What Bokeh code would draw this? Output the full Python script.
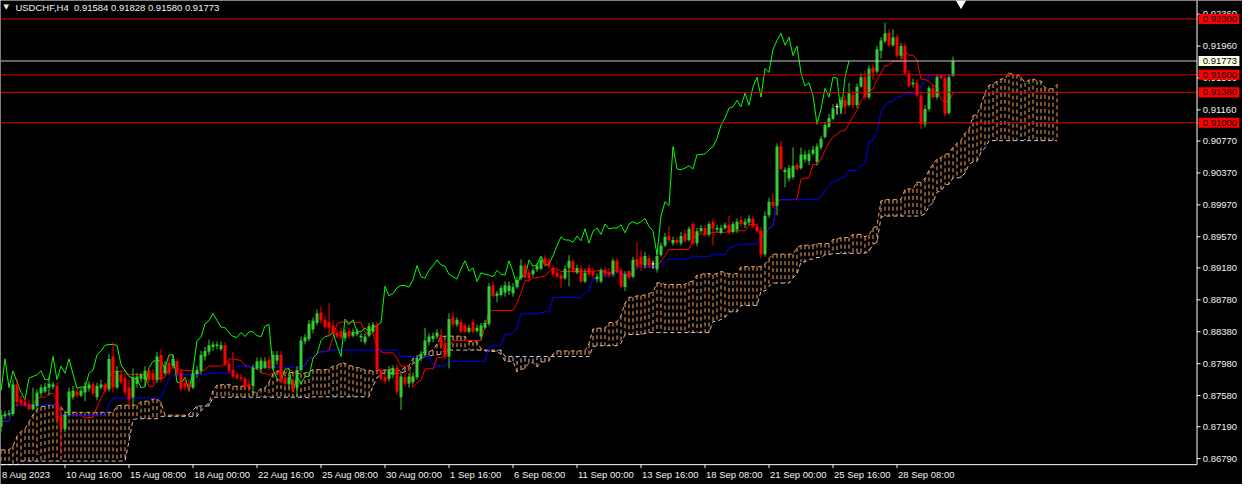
from bokeh.plotting import figure
from bokeh.models import Range1d, ColumnDataSource
from bokeh.embed import file_html
from bokeh.resources import INLINE
from bokeh.core.properties import value

SYMBOL = "USDCHF,H4"

OPEN = [
    0.8719, 0.8732, 0.8734, 0.8735, 0.8772, 0.8753, 0.8751, 0.8747, 0.8741, 0.8745,
    0.8761, 0.8763, 0.8768, 0.8769, 0.8770, 0.8732, 0.8716, 0.8734, 0.8756, 0.8763,
    0.8758, 0.8762, 0.8767, 0.8772, 0.8756, 0.8768, 0.8772, 0.8766, 0.8807, 0.8768,
    0.8784, 0.8780, 0.8768, 0.8756, 0.8773, 0.8779, 0.8778, 0.8789, 0.8786, 0.8778,
    0.8809, 0.8786, 0.8799, 0.8795, 0.8801, 0.8787, 0.8774, 0.8773, 0.8768, 0.8785,
    0.8789, 0.8807, 0.8813, 0.8819, 0.8820, 0.8816, 0.8821, 0.8798, 0.8790, 0.8784,
    0.8781, 0.8779, 0.8773, 0.8770, 0.8792, 0.8791, 0.8793, 0.8803, 0.8792, 0.8802,
    0.8809, 0.8780, 0.8772, 0.8776, 0.8768, 0.8790, 0.8826, 0.8829, 0.8841, 0.8849,
    0.8862, 0.8853, 0.8850, 0.8846, 0.8837, 0.8839, 0.8830, 0.8839, 0.8833, 0.8835,
    0.8831, 0.8825, 0.8833, 0.8838, 0.8847, 0.8790, 0.8781, 0.8779, 0.8784, 0.8793,
    0.8756, 0.8781, 0.8773, 0.8775, 0.8781, 0.8804, 0.8809, 0.8825, 0.8829, 0.8832,
    0.8834, 0.8824, 0.8807, 0.8856, 0.8847, 0.8850, 0.8846, 0.8838, 0.8850, 0.8839,
    0.8832, 0.8843, 0.8848, 0.8896, 0.8883, 0.8884, 0.8887, 0.8889, 0.8886, 0.8894,
    0.8905, 0.8921, 0.8912, 0.8910, 0.8916, 0.8917, 0.8930, 0.8927, 0.8918, 0.8912,
    0.8909, 0.8905, 0.8918, 0.8926, 0.8912, 0.8917, 0.8901, 0.8918, 0.8914, 0.8904,
    0.8901, 0.8916, 0.8913, 0.8910, 0.8927, 0.8915, 0.8894, 0.8914, 0.8907, 0.8929,
    0.8932, 0.8921, 0.8930, 0.8923, 0.8916, 0.8934, 0.8946, 0.8958, 0.8949, 0.8953,
    0.8949, 0.8961, 0.8953, 0.8973, 0.8949, 0.8964, 0.8968, 0.8960, 0.8976, 0.8966,
    0.8962, 0.8968, 0.8972, 0.8963, 0.8966, 0.8978, 0.8972, 0.8975, 0.8980, 0.8970,
    0.8965, 0.8935, 0.8984, 0.9001, 0.8996, 0.9070, 0.9038, 0.9030, 0.9032, 0.9047,
    0.9043, 0.9054, 0.9052, 0.9061, 0.9051, 0.9069, 0.9082, 0.9095, 0.9105, 0.9120,
    0.9118, 0.9128, 0.9122, 0.9135, 0.9122, 0.9145, 0.9157, 0.9132, 0.9169, 0.9164,
    0.9190, 0.9202, 0.9212, 0.9197, 0.9207, 0.9184, 0.9196, 0.9162, 0.9148, 0.9150,
    0.9134, 0.9098, 0.9117, 0.9143, 0.9132, 0.9159, 0.9156, 0.9112, 0.91584,
]
HIGH = [
    0.8740, 0.8739, 0.8740, 0.8778, 0.8780, 0.8758, 0.8756, 0.8752, 0.8768, 0.8766,
    0.8772, 0.8774, 0.8782, 0.8775, 0.8774, 0.8744, 0.8739, 0.8768, 0.8770, 0.8766,
    0.8768, 0.8775, 0.8776, 0.8775, 0.8774, 0.8778, 0.8774, 0.8810, 0.8825, 0.8795,
    0.8789, 0.8786, 0.8778, 0.8792, 0.8786, 0.8787, 0.8795, 0.8792, 0.8791, 0.8813,
    0.8816, 0.8801, 0.8807, 0.8809, 0.8804, 0.8792, 0.8780, 0.8778, 0.8792, 0.8795,
    0.8814, 0.8819, 0.8828, 0.8826, 0.8826, 0.8826, 0.8825, 0.8802, 0.8813, 0.8787,
    0.8785, 0.8782, 0.8778, 0.8797, 0.8806, 0.8806, 0.8806, 0.8808, 0.8814, 0.8814,
    0.8814, 0.8785, 0.8785, 0.8780, 0.8795, 0.8832, 0.8835, 0.8853, 0.8856, 0.8866,
    0.8870, 0.8858, 0.8874, 0.8852, 0.8841, 0.8843, 0.8841, 0.8843, 0.8842, 0.8842,
    0.8836, 0.8836, 0.8849, 0.8850, 0.8850, 0.8792, 0.8785, 0.8795, 0.8796, 0.8797,
    0.8786, 0.8787, 0.8786, 0.8787, 0.8809, 0.8814, 0.8843, 0.8836, 0.8837, 0.8841,
    0.8841, 0.8827, 0.8861, 0.8862, 0.8856, 0.8854, 0.8849, 0.8847, 0.8854, 0.8847,
    0.8849, 0.8853, 0.8899, 0.8901, 0.8889, 0.8896, 0.8901, 0.8901, 0.8899, 0.8907,
    0.8929, 0.8924, 0.8916, 0.8918, 0.8924, 0.8932, 0.8934, 0.8930, 0.8921, 0.8916,
    0.8912, 0.8921, 0.8934, 0.8929, 0.8922, 0.8921, 0.8917, 0.8922, 0.8918, 0.8911,
    0.8918, 0.8920, 0.8918, 0.8930, 0.8930, 0.8918, 0.8914, 0.8915, 0.8932, 0.8950,
    0.8940, 0.8938, 0.8934, 0.8927, 0.8938, 0.8950, 0.8962, 0.8970, 0.8957, 0.8957,
    0.8963, 0.8966, 0.8970, 0.8976, 0.8968, 0.8972, 0.8972, 0.8976, 0.8980, 0.8972,
    0.8972, 0.8975, 0.8983, 0.8976, 0.8980, 0.8983, 0.8980, 0.8984, 0.8983, 0.8974,
    0.8969, 0.8989, 0.9006, 0.9011, 0.9074, 0.9077, 0.9044, 0.9047, 0.9069, 0.9050,
    0.9069, 0.9065, 0.9066, 0.9071, 0.9074, 0.9083, 0.9101, 0.9111, 0.9123, 0.9124,
    0.9132, 0.9134, 0.9150, 0.9139, 0.9149, 0.9162, 0.9165, 0.9172, 0.9173, 0.9196,
    0.9207, 0.9225, 0.9217, 0.9217, 0.9211, 0.9200, 0.9200, 0.9166, 0.9155, 0.9154,
    0.9137, 0.9122, 0.9146, 0.9148, 0.9161, 0.9161, 0.9160, 0.9161, 0.91828,
]
LOW = [
    0.8712, 0.8729, 0.8732, 0.8732, 0.8744, 0.8746, 0.8744, 0.8739, 0.8739, 0.8742,
    0.8757, 0.8761, 0.8758, 0.8766, 0.8722, 0.8685, 0.8712, 0.8732, 0.8753, 0.8755,
    0.8756, 0.8751, 0.8763, 0.8757, 0.8752, 0.8766, 0.8762, 0.8763, 0.8762, 0.8766,
    0.8772, 0.8758, 0.8744, 0.8746, 0.8768, 0.8775, 0.8770, 0.8774, 0.8773, 0.8774,
    0.8775, 0.8784, 0.8784, 0.8792, 0.8782, 0.8763, 0.8764, 0.8762, 0.8766, 0.8780,
    0.8785, 0.8802, 0.8809, 0.8814, 0.8816, 0.8814, 0.8795, 0.8786, 0.8780, 0.8778,
    0.8776, 0.8766, 0.8763, 0.8759, 0.8790, 0.8787, 0.8791, 0.8790, 0.8790, 0.8797,
    0.8773, 0.8769, 0.8768, 0.8762, 0.8756, 0.8787, 0.8822, 0.8826, 0.8836, 0.8846,
    0.8848, 0.8842, 0.8832, 0.8835, 0.8830, 0.8829, 0.8826, 0.8830, 0.8831, 0.8832,
    0.8825, 0.8822, 0.8831, 0.8836, 0.8787, 0.8776, 0.8773, 0.8776, 0.8780, 0.8759,
    0.8740, 0.8769, 0.8768, 0.8773, 0.8778, 0.8801, 0.8807, 0.8821, 0.8825, 0.8829,
    0.8816, 0.8804, 0.8792, 0.8844, 0.8844, 0.8836, 0.8836, 0.8836, 0.8836, 0.8837,
    0.8828, 0.8841, 0.8845, 0.8881, 0.8875, 0.8882, 0.8882, 0.8884, 0.8882, 0.8892,
    0.8903, 0.8905, 0.8901, 0.8907, 0.8913, 0.8915, 0.8920, 0.8917, 0.8907, 0.8905,
    0.8893, 0.8903, 0.8895, 0.8911, 0.8910, 0.8899, 0.8899, 0.8907, 0.8905, 0.8900,
    0.8899, 0.8906, 0.8906, 0.8907, 0.8911, 0.8892, 0.8889, 0.8903, 0.8905, 0.8917,
    0.8914, 0.8917, 0.8918, 0.8917, 0.8912, 0.8932, 0.8944, 0.8950, 0.8946, 0.8947,
    0.8946, 0.8950, 0.8951, 0.8946, 0.8945, 0.8962, 0.8957, 0.8957, 0.8946, 0.8963,
    0.8960, 0.8966, 0.8960, 0.8961, 0.8962, 0.8970, 0.8968, 0.8972, 0.8968, 0.8962,
    0.8930, 0.8932, 0.8981, 0.8993, 0.8984, 0.9040, 0.9019, 0.9026, 0.9029, 0.9040,
    0.9041, 0.9050, 0.9047, 0.9059, 0.9047, 0.9066, 0.9080, 0.9093, 0.9103, 0.9110,
    0.9115, 0.9111, 0.9120, 0.9118, 0.9118, 0.9144, 0.9129, 0.9129, 0.9154, 0.9162,
    0.9180, 0.9200, 0.9195, 0.9195, 0.9181, 0.9180, 0.9160, 0.9144, 0.9144, 0.9132,
    0.9092, 0.9094, 0.9114, 0.9131, 0.9129, 0.9154, 0.9108, 0.9110, 0.91580,
]
CLOSE = [
    0.8734, 0.8735, 0.8736, 0.8772, 0.8750, 0.8748, 0.8746, 0.8741, 0.8747, 0.8762,
    0.8768, 0.8769, 0.8773, 0.8772, 0.8729, 0.8716, 0.8734, 0.8763, 0.8764, 0.8758,
    0.8764, 0.8770, 0.8772, 0.8761, 0.8770, 0.8772, 0.8764, 0.8804, 0.8768, 0.8789,
    0.8775, 0.8762, 0.8753, 0.8780, 0.8782, 0.8784, 0.8789, 0.8778, 0.8778, 0.8807,
    0.8778, 0.8795, 0.8786, 0.8804, 0.8785, 0.8767, 0.8769, 0.8768, 0.8786, 0.8790,
    0.8809, 0.8814, 0.8821, 0.8822, 0.8822, 0.8821, 0.8797, 0.8789, 0.8782, 0.8780,
    0.8779, 0.8768, 0.8769, 0.8793, 0.8801, 0.8802, 0.8801, 0.8792, 0.8809, 0.8809,
    0.8775, 0.8773, 0.8781, 0.8764, 0.8790, 0.8827, 0.8831, 0.8848, 0.8852, 0.8861,
    0.8852, 0.8844, 0.8843, 0.8837, 0.8832, 0.8831, 0.8837, 0.8832, 0.8838, 0.8838,
    0.8833, 0.8832, 0.8845, 0.8847, 0.8791, 0.8779, 0.8776, 0.8791, 0.8792, 0.8763,
    0.8782, 0.8773, 0.8782, 0.8782, 0.8805, 0.8810, 0.8827, 0.8832, 0.8833, 0.8837,
    0.8821, 0.8807, 0.8854, 0.8847, 0.8853, 0.8838, 0.8838, 0.8843, 0.8838, 0.8843,
    0.8846, 0.8849, 0.8895, 0.8883, 0.8886, 0.8893, 0.8896, 0.8896, 0.8894, 0.8903,
    0.8921, 0.8907, 0.8905, 0.8915, 0.8921, 0.8928, 0.8922, 0.8920, 0.8910, 0.8907,
    0.8904, 0.8917, 0.8927, 0.8914, 0.8918, 0.8901, 0.8912, 0.8910, 0.8909, 0.8907,
    0.8915, 0.8910, 0.8909, 0.8927, 0.8913, 0.8895, 0.8910, 0.8906, 0.8928, 0.8920,
    0.8922, 0.8933, 0.8921, 0.8923, 0.8933, 0.8946, 0.8957, 0.8953, 0.8953, 0.8950,
    0.8958, 0.8952, 0.8967, 0.8949, 0.8964, 0.8968, 0.8960, 0.8973, 0.8967, 0.8968,
    0.8968, 0.8972, 0.8962, 0.8973, 0.8976, 0.8973, 0.8976, 0.8980, 0.8970, 0.8964,
    0.8935, 0.8983, 0.9001, 0.8996, 0.9070, 0.9042, 0.9041, 0.9043, 0.9046, 0.9042,
    0.9060, 0.9060, 0.9061, 0.9066, 0.9070, 0.9080, 0.9097, 0.9106, 0.9118, 0.9120,
    0.9128, 0.9120, 0.9137, 0.9122, 0.9145, 0.9157, 0.9132, 0.9168, 0.9163, 0.9192,
    0.9203, 0.9212, 0.9197, 0.9207, 0.9184, 0.9196, 0.9162, 0.9146, 0.9150, 0.9134,
    0.9098, 0.9117, 0.9143, 0.9132, 0.9157, 0.9156, 0.9111, 0.9157, 0.91773,
]

# Ichimoku cloud edges at the left of the window (their source bars are off-screen)
SPAN_A_EARLY = [
    0.8690, 0.8690, 0.8690, 0.8695, 0.8707, 0.8713, 0.8716, 0.8725, 0.8734, 0.8741,
    0.8744, 0.8745, 0.8746, 0.8747, 0.8747, 0.8744, 0.8737, 0.8737, 0.8737, 0.8737,
    0.8737, 0.8737, 0.8737, 0.8737, 0.8737, 0.8737, 0.8737, 0.8737, 0.8737,
]
SPAN_B_EARLY = [
    0.8659, 0.8659, 0.8659, 0.8659, 0.8659, 0.8676, 0.8676, 0.8676, 0.8676, 0.8676,
    0.8676, 0.8676, 0.8676, 0.8676, 0.8676, 0.8676, 0.8676, 0.8676, 0.8676, 0.8676,
    0.8676, 0.8676, 0.8676, 0.8676, 0.8676, 0.8676, 0.8676, 0.8676, 0.8676, 0.8676,
    0.8676, 0.8676, 0.8701, 0.8728, 0.8729, 0.8729, 0.8729, 0.8729, 0.8729, 0.8729,
    0.8732, 0.8732, 0.8732, 0.8732, 0.8732, 0.8732, 0.8732, 0.8735, 0.8740, 0.8745,
    0.8745, 0.8745, 0.8745, 0.8756, 0.8756, 0.8756, 0.8756, 0.8756, 0.8756, 0.8756,
    0.8756, 0.8756, 0.8756, 0.8756, 0.8756, 0.8756, 0.8756, 0.8756, 0.8756, 0.8756,
    0.8756, 0.8756, 0.8756, 0.8756, 0.8756, 0.8756, 0.8756,
]

PRICE_TICKS = [0.8679, 0.8719, 0.8758, 0.8798, 0.8838, 0.8878, 0.8918, 0.8957,
               0.8997, 0.9037, 0.9077, 0.9116, 0.9156, 0.9196, 0.9236]
TIME_TICKS = [0, 16, 32, 48, 64, 80, 96, 112, 128, 144, 160, 176, 192, 208, 224]
TIME_LABELS = ["8 Aug 2023", "10 Aug 16:00", "15 Aug 08:00", "18 Aug 00:00", "22 Aug 16:00",
               "25 Aug 08:00", "30 Aug 00:00", "1 Sep 16:00", "6 Sep 08:00", "11 Sep 00:00",
               "13 Sep 16:00", "18 Sep 08:00", "21 Sep 00:00", "25 Sep 16:00", "28 Sep 08:00"]
LEVELS = [0.92300, 0.91600, 0.91380, 0.91000]

TENKAN_P, KIJUN_P, SENKOU_P, SHIFT = 9, 26, 52, 26

n = len(CLOSE)
LAST = CLOSE[-1]


def midpoint(i, period):
    s = max(0, i - period + 1)
    return (max(HIGH[s:i + 1]) + min(LOW[s:i + 1])) / 2


tenkan = [midpoint(i, TENKAN_P) for i in range(n)]
kijun = [midpoint(i, KIJUN_P) for i in range(n)]
m = n + SHIFT
span_a, span_b = [], []
for j in range(m):
    if j < len(SPAN_A_EARLY):
        span_a.append(SPAN_A_EARLY[j])
    else:
        k = j - SHIFT
        span_a.append((tenkan[k] + kijun[k]) / 2)
    if j < len(SPAN_B_EARLY):
        span_b.append(SPAN_B_EARLY[j])
    else:
        span_b.append(midpoint(j - SHIFT, SENKOU_P))

# ---- layout / style constants ----
W, H = 1242, 484
X0, X1 = -0.125, 310.375          # 4 px per bar
Y_TOP = 0.92531
PPX = 1 / 8244                    # price per reference pixel
Y_BOT = Y_TOP - 500 * PPX
AXIS_X = 299.0                    # right price-scale line (bar units)
AXIS_Y = Y_TOP - 479.5 * PPX      # bottom time-scale line (price units)
FONT = "Liberation Sans"
FS = "9.5px"
TXT = "#F0F0F0"

p = figure(width=W, height=H, output_backend="svg", toolbar_location=None,
           x_range=Range1d(X0, X1), y_range=Range1d(Y_BOT, Y_TOP),
           x_axis_location=None, y_axis_location=None, min_border=0,
           background_fill_color="black", border_fill_color="black", outline_line_color=None)
p.grid.visible = False


def clip(v):
    # the price pane ends at the time-scale line
    return max(v, AXIS_Y)


# cloud
cx = list(range(m))
ca = [clip(v) for v in span_a]
cb = [clip(v) for v in span_b]
ccol = ["#F4A460" if span_a[j] >= span_b[j] else "#D8BFD8" for j in cx]
p.segment(x0=cx, y0=ca, x1=cx, y1=cb, line_color=ccol, line_dash="4 3", line_width=1)
p.line(cx, ca, line_color="#F4A460", line_dash="4 3", line_width=1)
p.line(cx, cb, line_color="#D8BFD8", line_dash="4 3", line_width=1)

# ichimoku lines
idx = list(range(n))
p.line(idx, tenkan, line_color="#FF0000", line_width=1)
p.line(idx, kijun, line_color="#0000FF", line_width=1)
p.line(list(range(n - SHIFT)), CLOSE[SHIFT:], line_color="#00FF00", line_width=1)


def cds(sel):
    return ColumnDataSource(dict(
        x=sel,
        h=[HIGH[i] for i in sel], l=[LOW[i] for i in sel],
        top=[max(OPEN[i], CLOSE[i]) for i in sel],
        bot=[min(OPEN[i], CLOSE[i]) for i in sel],
        x0=[i - 0.375 for i in sel], x1=[i + 0.375 for i in sel],
        o=[OPEN[i] for i in sel],
    ))


up = cds([i for i in idx if CLOSE[i] > OPEN[i]])
dn = cds([i for i in idx if CLOSE[i] < OPEN[i]])
dj = cds([i for i in idx if CLOSE[i] == OPEN[i]])
for s, col in ((up, "#32CD32"), (dn, "#FF0000")):
    p.segment(x0="x", y0="h", x1="x", y1="l", source=s, line_color=col, line_width=1)
    p.vbar(x="x", width=0.75, top="top", bottom="bot", source=s, fill_color=col, line_color=None)
p.segment(x0="x", y0="h", x1="x", y1="l", source=dj, line_color="white", line_width=1)
p.segment(x0="x0", y0="o", x1="x1", y1="o", source=dj, line_color="white", line_width=1)

# horizontal levels and last-price line
p.segment(x0=[X0] * len(LEVELS), y0=LEVELS, x1=[AXIS_X] * len(LEVELS), y1=LEVELS,
          line_color="#DC0000", line_width=1)
p.segment(x0=[X0], y0=[LAST], x1=[AXIS_X], y1=[LAST], line_color="#C8C8C8", line_width=1)

# price scale (right)
p.segment(x0=[AXIS_X], y0=[AXIS_Y], x1=[AXIS_X], y1=[Y_TOP], line_color="white", line_width=1)
p.segment(x0=[AXIS_X] * len(PRICE_TICKS), y0=PRICE_TICKS,
          x1=[AXIS_X + 0.875] * len(PRICE_TICKS), y1=PRICE_TICKS, line_color="white", line_width=1)
p.text(x=[AXIS_X + 1.45] * len(PRICE_TICKS), y=PRICE_TICKS,
       text=[f"{t:.5f}" for t in PRICE_TICKS], text_align="left", text_baseline="middle",
       text_font=value(FONT), text_font_size=value(FS), text_color=TXT)

# level boxes on the price scale
BOX_L, BOX_R, BOX_HALF = AXIS_X + 0.4, AXIS_X + 10.6, 5.2 * PPX
box_y = LEVELS + [LAST]
box_fill = ["#FF0000"] * len(LEVELS) + ["#FFFFE6"]
box_txt = ["#000000"] * len(LEVELS) + ["#000000"]
p.quad(left=[BOX_L] * len(box_y), right=[BOX_R] * len(box_y),
       top=[v + BOX_HALF for v in box_y], bottom=[v - BOX_HALF for v in box_y],
       fill_color=box_fill, line_color=None)
p.text(x=[AXIS_X + 1.45] * len(box_y), y=box_y, text=[f"{v:.5f}" for v in box_y],
       text_align="left", text_baseline="middle", text_font=value(FONT),
       text_font_size=value(FS), text_color=box_txt)

# time scale (bottom)
p.segment(x0=[X0], y0=[AXIS_Y], x1=[AXIS_X], y1=[AXIS_Y], line_color="white", line_width=1)
tt = TIME_TICKS[1:]
p.segment(x0=tt, y0=[AXIS_Y] * len(tt), x1=tt, y1=[AXIS_Y - 3.5 * PPX] * len(tt),
          line_color="white", line_width=1)
p.text(x=[max(t, X0) + 0.25 for t in TIME_TICKS], y=[Y_TOP - 489.5 * PPX] * len(TIME_TICKS),
       text=TIME_LABELS, text_align="left", text_baseline="middle",
       text_font=value(FONT), text_font_size=value(FS), text_color=TXT)

# header
title = f"{SYMBOL}\u00a0 {OPEN[-1]:.5f} {HIGH[-1]:.5f} {LOW[-1]:.5f} {CLOSE[-1]:.5f}"
p.text(x=[0.6], y=[Y_TOP - 7 * PPX], text=["\u25bc"], text_align="left", text_baseline="middle",
       text_font=value("DejaVu Sans"), text_font_size=value("7px"), text_color=TXT)
p.text(x=[3.6], y=[Y_TOP - 7 * PPX], text=[title], text_align="left", text_baseline="middle",
       text_font=value(FONT), text_font_size=value(FS), text_color=TXT)

# chart-shift marker at the top
p.scatter(x=[n + 1], y=[Y_TOP - 1 * PPX], marker="inverted_triangle", size=12,
          fill_color="white", line_color="white")

open("out.html", "w").write(file_html(p, INLINE))
